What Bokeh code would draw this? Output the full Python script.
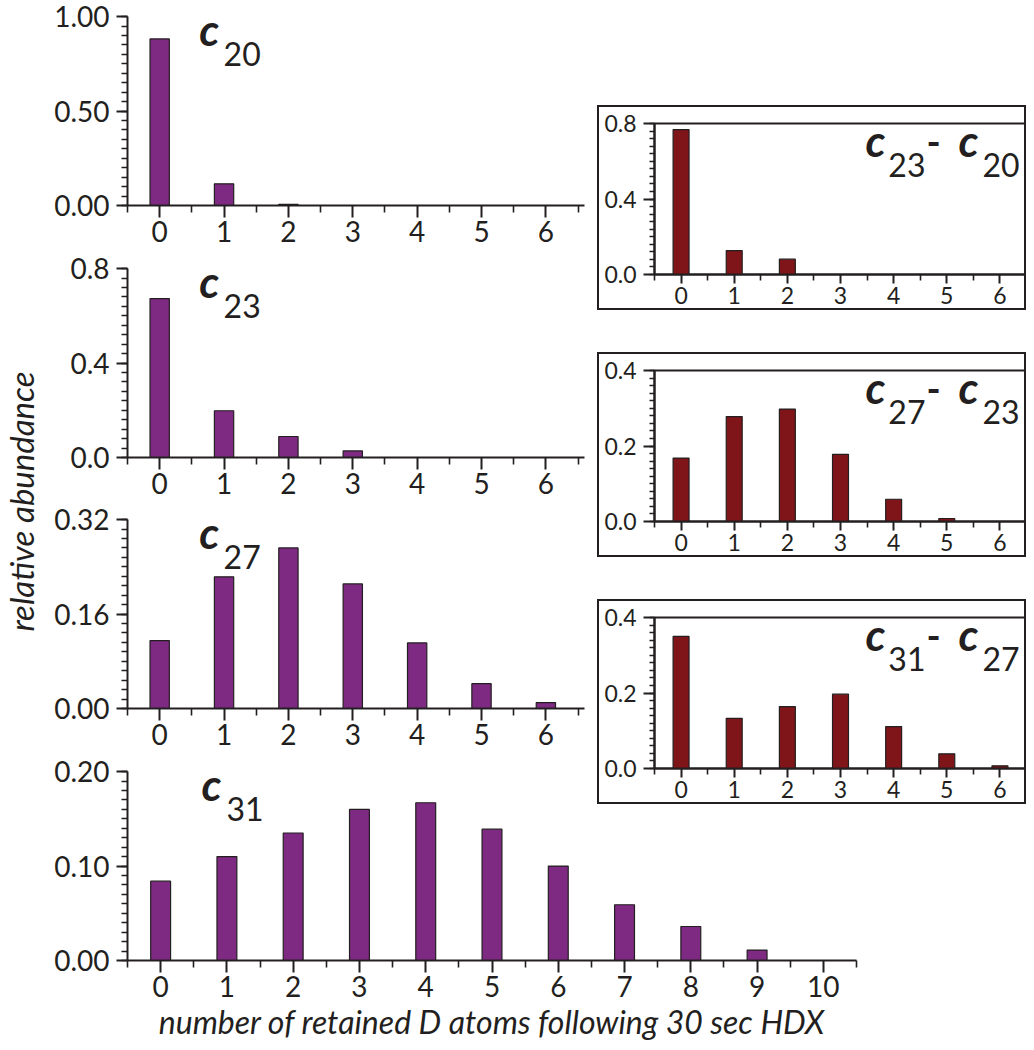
from math import pi
from bokeh.plotting import figure
from bokeh.layouts import row, column
from bokeh.models import Range1d, FixedTicker, SingleIntervalTicker, NumeralTickFormatter, Label
from bokeh.embed import file_html
from bokeh.resources import INLINE

# ---------------- data ----------------
d_atoms_7 = [0, 1, 2, 3, 4, 5, 6]
d_atoms_11 = [0, 1, 2, 3, 4, 5, 6, 7, 8, 9, 10]

c20 = [0.882, 0.115, 0.006, 0.0, 0.0, 0.0, 0.0]
c23 = [0.673, 0.198, 0.089, 0.028, 0.0, 0.0, 0.0]
c27 = [0.115, 0.223, 0.272, 0.211, 0.111, 0.042, 0.010]
c31 = [0.084, 0.110, 0.135, 0.160, 0.167, 0.139, 0.100, 0.059, 0.036, 0.011, 0.0]

c23_minus_c20 = [0.768, 0.127, 0.081, 0.0, 0.0, 0.0, 0.0]
c27_minus_c23 = [0.168, 0.278, 0.298, 0.178, 0.059, 0.008, 0.0]
c31_minus_c27 = [0.350, 0.133, 0.164, 0.197, 0.111, 0.039, 0.007]

main_names = [("c", "20"), ("c", "23"), ("c", "27"), ("c", "31")]
inset_names = [("23", "20"), ("27", "23"), ("31", "27")]

x_title = "number of retained D atoms following 30 sec HDX"
y_title = "relative abundance"

# ---------------- style ----------------
DARK = "#231f20"
PURPLE = "#7e2a82"
RED = "#7f1519"
FONT = "Lato"


def style_axes(p, tick_size, xt_out, xm_out, yt_out, ym_out):
    p.xgrid.visible = False
    p.ygrid.visible = False
    for ax in (p.xaxis[0], p.yaxis[0]):
        ax.axis_line_color = DARK
        ax.axis_line_width = 2
        ax.major_tick_line_color = DARK
        ax.major_tick_line_width = 2
        ax.minor_tick_line_color = DARK
        ax.minor_tick_line_width = 1.6
        ax.major_tick_in = 0
        ax.minor_tick_in = 0
        ax.major_label_text_font = FONT
        ax.major_label_text_font_size = tick_size
        ax.major_label_text_color = DARK
    p.xaxis[0].major_tick_out = xt_out
    p.xaxis[0].minor_tick_out = xm_out
    p.yaxis[0].major_tick_out = yt_out
    p.yaxis[0].minor_tick_out = ym_out
    p.xaxis[0].major_label_standoff = 3
    p.yaxis[0].major_label_standoff = 7


def main_panel(xs, vals, ymax, major, fmt, width, height, top_b, bottom_b, right_b, xend,
               names, top_margin):
    p = figure(width=width, height=height, x_range=Range1d(-0.5, xend),
               y_range=Range1d(0, ymax * 1.0005),
               min_border_left=77, min_border_right=right_b,
               min_border_top=top_b, min_border_bottom=bottom_b,
               toolbar_location=None, output_backend="svg",
               outline_line_color=None, margin=(top_margin, 0, 0, 0))
    p.vbar(x=xs, top=vals, width=0.3, fill_color=PURPLE, line_color=DARK, line_width=1.2)
    p.xaxis[0].ticker = FixedTicker(ticks=xs, minor_ticks=[t - 0.5 for t in xs] + [xs[-1] + 0.5])
    p.yaxis[0].ticker = SingleIntervalTicker(interval=major, num_minor_ticks=10)
    p.yaxis[0].formatter = NumeralTickFormatter(format=fmt)
    style_axes(p, "28px", 12, 7, 11, 6)
    p.add_layout(Label(x=0.616, y=ymax * (1 - 12 / 189), text=names[0], text_font=FONT,
                       text_font_style="bold italic", text_font_size="44px",
                       text_color=DARK, text_baseline="alphabetic", text_align="left"))
    p.add_layout(Label(x=0.993, y=ymax * (1 - 37 / 189), text=names[1], text_font=FONT,
                       text_font_size="32px", text_color=DARK,
                       text_baseline="alphabetic", text_align="left"))
    return p


def inset_panel(xs, vals, ymax, major, top_margin, names):
    p = figure(width=429, height=205, x_range=Range1d(-0.5, 6.5),
               y_range=Range1d(0, ymax * 1.0005),
               min_border_left=55, min_border_right=2, min_border_top=16, min_border_bottom=38,
               toolbar_location=None, output_backend="svg",
               outline_line_color=DARK, outline_line_width=2,
               styles={"border": "2px solid " + DARK},
               margin=(top_margin, 0, 0, 0))
    p.vbar(x=xs, top=vals, width=0.3, fill_color=RED, line_color=DARK, line_width=1.2)
    p.xaxis[0].ticker = FixedTicker(ticks=xs, minor_ticks=[t - 0.5 for t in xs] + [xs[-1] + 0.5])
    p.yaxis[0].ticker = SingleIntervalTicker(interval=major, num_minor_ticks=10)
    p.yaxis[0].formatter = NumeralTickFormatter(format="0.0")
    style_axes(p, "23px", 9, 6, 11, 5)
    big = dict(text_font=FONT, text_font_style="bold italic", text_font_size="44px",
               text_color=DARK, text_baseline="alphabetic", text_align="left")
    small = dict(text_font=FONT, text_font_size="32px", text_color=DARK,
                 text_baseline="alphabetic", text_align="left")
    yc = ymax * (1 - 16 / 151)
    ys = ymax * (1 - 41 / 151)
    p.add_layout(Label(x=3.47, y=yc, text="c", **big))
    p.add_layout(Label(x=3.90, y=ys, text=names[0], **small))
    p.add_layout(Label(x=4.62, y=ymax * (1 - 18 / 151), text="-", text_font=FONT,
                       text_font_style="bold", text_font_size="38px", text_color=DARK,
                       text_baseline="alphabetic", text_align="left"))
    p.add_layout(Label(x=5.22, y=yc, text="c", **big))
    p.add_layout(Label(x=5.67, y=ys, text=names[1], **small))
    return p


f1 = main_panel(d_atoms_7, c20, 1.0, 0.5, "0.00", 548, 258, 16, 53, 0, 6.6, main_names[0], 0)
f2 = main_panel(d_atoms_7, c23, 0.8, 0.4, "0.0", 548, 260, 18, 53, 0, 6.6, main_names[1], -8)
f3 = main_panel(d_atoms_7, c27, 0.32, 0.16, "0.00", 548, 260, 17, 54, 0, 6.6, main_names[2], -8)
f4 = main_panel(d_atoms_11, c31, 0.20, 0.10, "0.00", 820, 296, 17, 90, 14, 10.5, main_names[3], -8)
f4.xaxis[0].axis_label = x_title
f4.xaxis[0].axis_label_text_font = FONT
f4.xaxis[0].axis_label_text_font_style = "italic"
f4.xaxis[0].axis_label_text_font_size = "32px"
f4.xaxis[0].axis_label_text_color = DARK
f4.xaxis[0].axis_label_standoff = 2

i1 = inset_panel(d_atoms_7, c23_minus_c20, 0.8, 0.4, 105, inset_names[0])
i2 = inset_panel(d_atoms_7, c27_minus_c23, 0.4, 0.2, 42, inset_names[1])
i3 = inset_panel(d_atoms_7, c31_minus_c27, 0.4, 0.2, 42, inset_names[2])

ylab = figure(width=50, height=1050, x_range=Range1d(0, 50), y_range=Range1d(0, 1050),
              min_border=0, toolbar_location=None, output_backend="svg",
              x_axis_type=None, y_axis_type=None, outline_line_color=None)
ylab.add_layout(Label(x=20, y=1050 - 501, text=y_title, angle=pi / 2, text_font=FONT,
                      text_font_style="italic", text_font_size="33px", text_color=DARK,
                      text_align="center", text_baseline="middle"))

main_col = column(f1, f2, f3, f4)
inset_col = column(i1, i2, i3, margin=(0, 0, 0, -273))
layout = row(ylab, main_col, inset_col)

open("out.html", "w").write(file_html(layout, INLINE))
